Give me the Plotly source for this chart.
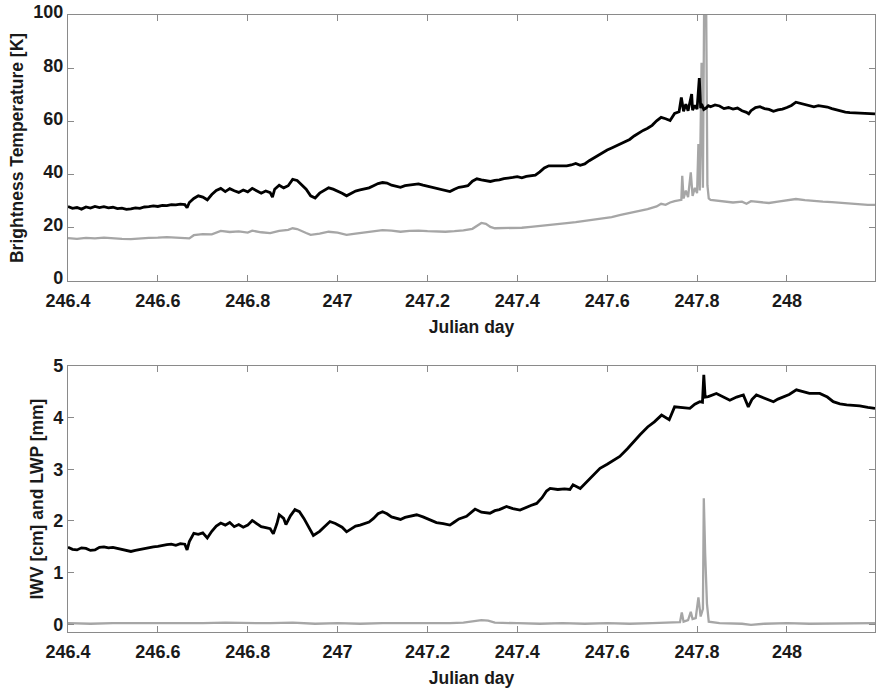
import plotly.graph_objects as go
from plotly.subplots import make_subplots

# ---------------- data ----------------
tb_hi_x = [246.400,246.410,246.420,246.430,246.440,246.450,246.460,246.470,246.480,246.490,
           246.500,246.510,246.520,246.530,246.540,246.550,246.560,246.570,246.580,246.590,
           246.600,246.610,246.620,246.630,246.640,246.650,246.660,246.665,246.670,246.680,
           246.690,246.700,246.710,246.720,246.730,246.740,246.750,246.760,246.770,246.780,
           246.790,246.800,246.810,246.820,246.830,246.840,246.850,246.855,246.860,246.870,
           246.880,246.890,246.900,246.910,246.920,246.930,246.940,246.950,246.960,246.970,
           246.980,246.990,247.000,247.010,247.020,247.030,247.040,247.050,247.060,247.070,
           247.080,247.090,247.100,247.110,247.120,247.130,247.140,247.150,247.160,247.170,
           247.180,247.190,247.200,247.210,247.220,247.230,247.240,247.250,247.260,247.270,
           247.280,247.290,247.300,247.310,247.320,247.330,247.340,247.350,247.360,247.370,
           247.380,247.390,247.400,247.410,247.420,247.430,247.440,247.450,247.460,247.470,
           247.480,247.490,247.500,247.510,247.520,247.530,247.540,247.550,247.560,247.570,
           247.580,247.590,247.600,247.610,247.620,247.630,247.640,247.650,247.660,247.670,
           247.680,247.690,247.700,247.710,247.720,247.730,247.740,247.750,247.760,247.765,
           247.770,247.775,247.780,247.788,247.790,247.795,247.800,247.805,247.808,247.810,
           247.815,247.820,247.825,247.830,247.840,247.850,247.860,247.870,247.880,247.890,
           247.900,247.910,247.915,247.920,247.930,247.940,247.950,247.960,247.970,247.980,
           247.990,248.000,248.010,248.020,248.030,248.040,248.050,248.060,248.070,248.080,
           248.090,248.100,248.110,248.120,248.130,248.140,248.150,248.160,248.170,248.180,
           248.190,248.196]
tb_hi_y = [28.0,27.3,27.6,27.0,27.8,27.4,28.0,27.6,27.9,27.5,
           27.7,27.2,27.4,26.9,27.1,27.5,27.3,27.8,27.9,28.2,
           28.0,28.4,28.3,28.7,28.6,28.9,28.7,27.5,29.5,31.0,
           32.0,31.5,30.5,32.5,34.0,34.8,33.6,34.7,33.9,33.3,
           34.2,33.5,34.8,34.0,33.0,33.8,33.2,31.5,34.5,36.0,
           35.0,35.8,38.2,37.8,36.0,34.5,32.0,31.2,33.0,34.0,
           35.0,34.5,33.8,33.0,32.0,33.0,33.8,34.2,34.5,35.0,
           35.8,36.6,37.0,36.8,36.0,35.6,35.2,35.8,36.0,36.2,
           36.5,36.0,35.6,35.2,34.8,34.5,34.0,33.6,34.5,35.2,
           35.5,35.8,37.5,38.4,38.0,37.6,37.4,37.8,38.0,38.5,
           38.6,38.9,39.2,38.8,39.3,39.5,39.8,41.0,42.5,43.3,
           43.3,43.2,43.4,43.3,43.6,44.2,43.5,44.0,45.2,46.2,
           47.5,48.3,49.2,50.0,50.8,51.5,52.5,53.2,54.5,55.6,
           56.6,57.4,58.5,60.2,61.5,61.0,60.3,63.0,63.6,69.0,
           63.8,66.5,64.0,70.3,64.2,66.0,64.6,76.3,65.0,66.5,
           64.5,65.0,65.9,65.5,66.2,65.8,64.8,65.2,64.6,65.0,
           64.0,63.4,62.8,64.0,65.2,65.5,64.8,64.5,63.8,64.3,
           64.6,65.2,66.0,67.2,66.8,66.4,65.8,65.5,65.9,65.6,
           65.4,64.8,64.3,64.0,63.5,63.3,63.2,63.2,63.0,62.9,
           62.8,62.8]

tb_lo_x = [246.400,246.420,246.440,246.460,246.480,246.500,246.520,246.540,246.560,246.580,
           246.600,246.620,246.640,246.660,246.670,246.680,246.700,246.720,246.740,246.760,
           246.780,246.800,246.810,246.830,246.850,246.870,246.890,246.900,246.910,246.930,
           246.940,246.960,246.980,247.000,247.020,247.040,247.060,247.080,247.100,247.120,
           247.140,247.160,247.180,247.200,247.220,247.240,247.260,247.280,247.300,247.310,
           247.320,247.330,247.340,247.350,247.370,247.390,247.410,247.430,247.450,247.470,
           247.490,247.510,247.530,247.550,247.570,247.590,247.610,247.630,247.650,247.670,
           247.690,247.710,247.720,247.730,247.740,247.750,247.760,247.765,247.767,247.770,
           247.775,247.780,247.786,247.790,247.795,247.800,247.803,247.806,247.810,247.813,
           247.816,247.820,247.823,247.826,247.830,247.840,247.860,247.880,247.900,247.910,
           247.920,247.940,247.960,247.980,248.000,248.020,248.040,248.060,248.080,248.100,
           248.120,248.140,248.160,248.180,248.196]
tb_lo_y = [16.1,15.8,16.2,16.0,16.3,16.0,15.8,15.7,16.0,16.2,
           16.3,16.5,16.3,16.1,16.0,17.2,17.6,17.5,18.8,18.4,
           18.6,18.2,18.9,18.3,18.0,18.8,19.2,19.8,19.5,18.0,
           17.3,17.8,18.5,18.2,17.3,17.8,18.2,18.6,19.1,18.9,
           18.5,18.8,18.9,18.7,18.6,18.5,18.7,19.0,19.6,20.8,
           21.8,21.5,20.3,19.8,19.8,19.9,20.0,20.3,20.6,21.0,
           21.3,21.7,22.1,22.6,23.0,23.5,24.0,24.8,25.5,26.2,
           27.0,28.0,29.0,28.6,29.5,30.0,30.2,30.5,39.5,31.0,
           34.0,31.5,40.8,32.0,35.0,33.0,51.5,34.0,82.0,35.0,
           110.0,110.0,36.0,31.0,30.5,30.3,30.0,29.5,29.8,29.0,
           30.0,29.6,29.3,29.8,30.2,30.8,30.4,30.0,29.8,29.6,
           29.3,29.0,28.8,28.6,28.6]

iwv_x = [246.400,246.410,246.420,246.430,246.440,246.450,246.460,246.470,246.480,246.490,
         246.500,246.510,246.520,246.530,246.540,246.550,246.560,246.570,246.580,246.590,
         246.600,246.610,246.620,246.630,246.640,246.650,246.660,246.665,246.670,246.680,
         246.690,246.700,246.710,246.720,246.730,246.740,246.750,246.760,246.770,246.780,
         246.790,246.800,246.810,246.820,246.830,246.840,246.850,246.857,246.865,246.870,
         246.880,246.885,246.895,246.905,246.915,246.925,246.935,246.946,246.960,246.970,
         246.983,246.995,247.010,247.020,247.030,247.040,247.050,247.060,247.070,247.080,
         247.090,247.100,247.110,247.120,247.130,247.140,247.150,247.160,247.176,247.190,
         247.200,247.210,247.220,247.235,247.250,247.260,247.270,247.287,247.300,247.306,
         247.320,247.339,247.350,247.360,247.376,247.390,247.406,247.420,247.430,247.443,
         247.455,247.465,247.473,247.490,247.505,247.517,247.524,247.540,247.555,247.570,
         247.584,247.600,247.615,247.628,247.645,247.660,247.673,247.690,247.705,247.721,
         247.730,247.738,247.750,247.765,247.784,247.795,247.806,247.812,247.815,247.818,
         247.825,247.843,247.858,247.873,247.888,247.903,247.914,247.922,247.932,247.950,
         247.970,247.980,247.992,248.005,248.021,248.035,248.050,248.073,248.090,248.103,
         248.118,248.133,248.150,248.162,248.180,248.196]
iwv_y = [1.49,1.45,1.44,1.48,1.47,1.43,1.44,1.49,1.50,1.48,
         1.49,1.47,1.45,1.43,1.41,1.43,1.45,1.47,1.49,1.50,
         1.51,1.53,1.54,1.55,1.53,1.56,1.55,1.44,1.60,1.76,
         1.74,1.77,1.67,1.80,1.90,1.96,1.92,1.97,1.89,1.93,
         1.88,1.92,2.01,1.95,1.89,1.87,1.85,1.75,1.95,2.12,
         2.05,1.93,2.10,2.22,2.18,2.05,1.88,1.72,1.80,1.88,
         1.99,1.95,1.88,1.79,1.84,1.90,1.92,1.95,1.98,2.05,
         2.14,2.18,2.14,2.08,2.05,2.03,2.07,2.09,2.12,2.08,
         2.04,2.01,1.97,1.95,1.92,1.98,2.04,2.09,2.18,2.23,
         2.17,2.15,2.20,2.22,2.28,2.24,2.21,2.27,2.30,2.34,
         2.45,2.58,2.63,2.61,2.62,2.61,2.70,2.63,2.76,2.88,
         3.02,3.10,3.18,3.25,3.40,3.55,3.67,3.82,3.92,4.05,
         4.00,3.96,4.21,4.20,4.18,4.26,4.31,4.30,4.83,4.40,
         4.41,4.47,4.40,4.34,4.40,4.44,4.21,4.35,4.44,4.38,
         4.31,4.36,4.41,4.45,4.54,4.50,4.47,4.47,4.40,4.31,
         4.27,4.25,4.24,4.23,4.20,4.18]

lwp_x = [246.400,246.450,246.500,246.550,246.600,246.650,246.700,246.750,246.800,246.850,
         246.900,246.950,247.000,247.050,247.100,247.150,247.200,247.250,247.280,247.300,
         247.320,247.335,247.350,247.400,247.450,247.500,247.550,247.600,247.650,247.700,
         247.750,247.762,247.766,247.770,247.780,247.786,247.790,247.797,247.803,247.808,
         247.813,247.815,247.818,247.822,247.826,247.850,247.900,247.920,247.950,248.000,
         248.050,248.100,248.150,248.196]
lwp_y = [0.02,0.01,0.02,0.02,0.01,0.02,0.02,0.03,0.02,0.02,
         0.03,0.01,0.02,0.01,0.02,0.02,0.01,0.02,0.03,0.05,
         0.08,0.07,0.03,0.02,0.01,0.02,0.01,0.02,0.01,0.02,
         0.03,0.04,0.23,0.05,0.08,0.24,0.10,0.12,0.52,0.15,
         0.30,2.44,1.38,0.40,0.05,0.02,0.01,-0.01,0.01,0.02,
         0.01,0.01,0.02,0.02]

x_ticks = [246.4, 246.6, 246.8, 247.0, 247.2, 247.4, 247.6, 247.8, 248.0]
x_tick_text = ["246.4", "246.6", "246.8", "247", "247.2", "247.4", "247.6", "247.8", "248"]
top_y_ticks = [0, 20, 40, 60, 80, 100]
bot_y_ticks = [0, 1, 2, 3, 4, 5]

# ---------------- figure ----------------
fig = make_subplots(rows=2, cols=1, vertical_spacing=0.0)

BLACK = "#000000"
GRAY = "#a6a6a6"

fig.add_trace(go.Scatter(x=tb_lo_x, y=tb_lo_y, mode="lines",
                         line=dict(color=GRAY, width=2.3), showlegend=False), row=1, col=1)
fig.add_trace(go.Scatter(x=tb_hi_x, y=tb_hi_y, mode="lines",
                         line=dict(color=BLACK, width=2.8), showlegend=False), row=1, col=1)
fig.add_trace(go.Scatter(x=iwv_x, y=iwv_y, mode="lines",
                         line=dict(color=BLACK, width=2.8), showlegend=False), row=2, col=1)
fig.add_trace(go.Scatter(x=lwp_x, y=lwp_y, mode="lines",
                         line=dict(color=GRAY, width=2.3), showlegend=False), row=2, col=1)

FONT = "Liberation Sans, Arial, sans-serif"
tickfont = dict(family=FONT, size=18, color="#1a1a1a", weight="bold")
titlefont = dict(family=FONT, size=17.5, color="#1a1a1a", weight="bold")
AX = "#8a8a8a"

common_x = dict(range=[246.4, 248.196], tickvals=x_ticks, ticktext=x_tick_text,
                ticks="inside", ticklen=6, tickcolor=AX, tickwidth=1,
                showline=True, linecolor=AX, linewidth=1.2, mirror="ticks",
                showgrid=False, zeroline=False, tickfont=tickfont,
                ticklabelstandoff=3,
                title=dict(text="Julian day", font=titlefont, standoff=11))
fig.update_xaxes(**common_x, row=1, col=1)
fig.update_xaxes(**common_x, row=2, col=1)

fig.update_yaxes(range=[0, 100], tickvals=top_y_ticks,
                 ticks="inside", ticklen=6, tickcolor=AX, tickwidth=1,
                 showline=True, linecolor=AX, linewidth=1.2, mirror="ticks",
                 showgrid=False, zeroline=False, tickfont=tickfont,
                 ticklabelshift=-3,
                 title=dict(text="Brightness Temperature [K]", font=titlefont, standoff=5),
                 row=1, col=1)
fig.update_yaxes(range=[-0.15, 5], tickvals=bot_y_ticks,
                 ticks="inside", ticklen=6, tickcolor=AX, tickwidth=1,
                 showline=True, linecolor=AX, linewidth=1.2, mirror="ticks",
                 showgrid=False, zeroline=False, tickfont=tickfont,
                 title=dict(text="IWV [cm] and LWP [mm]", font=titlefont, standoff=5),
                 row=2, col=1)

fig.update_layout(
    width=876, height=689,
    margin=dict(l=68, r=1, t=15, b=57),
    plot_bgcolor="white", paper_bgcolor="white",
)
fig.layout.yaxis.domain = [0.569, 1.0]
fig.layout.yaxis2.domain = [0.0, 0.431]

fig.write_html("out.html")
